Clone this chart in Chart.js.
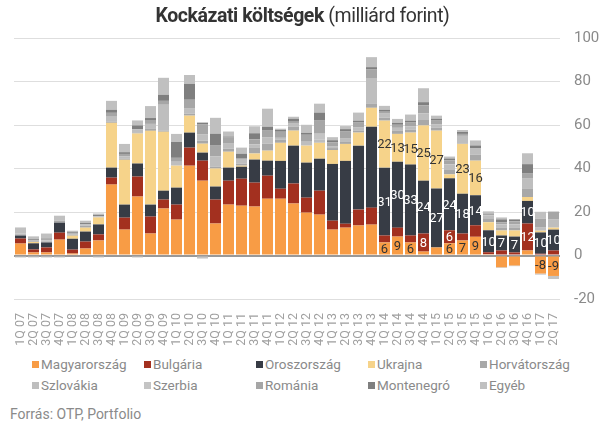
<!DOCTYPE html>
<html lang="hu">
<head>
<meta charset="UTF-8">
<title>Kockázati költségek</title>
<script src="https://cdn.jsdelivr.net/npm/chart.js"></script>
<style>
body { margin: 0; background: #fff; font-family: Roboto, sans-serif; }
#wrap { position: relative; width: 605px; height: 429px; }
#title { position: absolute; top: 4px; left: 0; width: 605px; text-align: center;
  font-size: 19.5px; color: #333; letter-spacing: -0.45px; }
#title b { font-weight: 700; }
#myChart { position: absolute; left: 0; top: 0; }
#legend { position: absolute; left: 32px; top: 356px; width: 570px;
  display: grid; grid-template-columns: repeat(5, 112px); row-gap: 4px; }
.item { font-size: 13.5px; color: #8a8a8a; height: 17px; line-height: 17px; white-space: nowrap; }
.item span { display: inline-block; width: 7px; height: 7px; margin-right: 2px; vertical-align: 1px; }
#source { position: absolute; left: 10px; top: 406px; font-size: 14px; color: #8a8a8a; }
</style>
</head>
<body>
<div id="wrap">
  <canvas id="myChart" width="605" height="352"></canvas>
  <div id="title"><b>Kockázati költségek</b> (milliárd forint)</div>
  <div id="legend"></div>
  <div id="source">Forrás: OTP, Portfolio</div>
</div>

<script>
// quarters 1Q 07 .. 2Q 17
const labels = [
  '1Q 07','2Q 07','3Q 07','4Q 07','1Q 08','2Q 08','3Q 08','4Q 08',
  '1Q 09','2Q 09','3Q 09','4Q 09','1Q 10','2Q 10','3Q 10','4Q 10',
  '1Q 11','2Q 11','3Q 11','4Q 11','1Q 12','2Q 12','3Q 12','4Q 12',
  '1Q 13','2Q 13','3Q 13','4Q 13','1Q 14','2Q 14','3Q 14','4Q 14',
  '1Q 15','2Q 15','3Q 15','4Q 15','1Q 16','2Q 16','3Q 16','4Q 16',
  '1Q 17','2Q 17'
];

const magyarorszag = [5.5, 1.4, 1.4, 7.3, 0.9, 3.2, 6.9, 32.6, 11.9, 27.1, 10.1, 21.6, 16.5, 41.3, 34.4, 14.7, 23.4, 22.9, 22.5, 26.1, 26.1, 23.9, 19.7, 18.8, 11.9, 12.8, 13.8, 14.2, 6.0, 8.7, 6.0, 1.8, 3.7, 5.6, 6.9, 8.6, 0.6, -5.4, -4.6, 2.3, -8.3, -9.4];
const bulgaria     = [2.3, 1.4, 2.3, 3.2, 1.8, 3.2, 2.8, 3.2, 5.5, 9.2, 7.8, 4.1, 6.9, 8.3, 9.2, 11.0, 11.0, 12.4, 11.0, 10.6, 4.6, 9.2, 6.9, 11.0, 4.1, 1.8, 7.3, 7.8, 3.2, 4.1, 3.2, 8.3, -0.5, 6.0, 3.2, 5.3, 0.9, 2.3, 1.4, 12.4, 0.8, 2.3];
const oroszorszag  = [1.4, 2.8, 2.3, 4.6, 5.0, 4.6, 4.6, 4.6, 6.0, 6.0, 5.5, 4.1, 7.8, 6.9, 3.7, 6.0, 6.0, 5.5, 10.6, 6.9, 12.8, 17.4, 16.1, 14.7, 26.1, 28.9, 29.4, 37.2, 31.2, 30.3, 32.6, 24.3, 27.1, 23.9, 18.3, 13.8, 10.1, 6.9, 7.3, 10.4, 9.8, 9.6];
const ukrajna      = [0, 0.6, 0, 0, 1.4, 1.8, 3.2, 20.6, 20.6, 13.8, 33.9, 27.1, 10.1, 7.8, 4.1, 8.3, 7.3, 0.5, 2.8, 4.6, 8.3, 6.9, 7.8, 7.3, 6.4, 7.8, 6.0, 8.7, 21.6, 12.8, 14.7, 25.4, 26.6, 1.8, 22.9, 15.9, 3.7, 2.3, 2.8, 1.8, 0.8, 0.9];
const horvatorszag = [0, 0.3, 0.5, 0.9, 0.5, 0.9, 0.3, 0.5, 0.6, 0.5, 0.9, 0.5, 0, 0.9, 1.4, 0.9, 1.4, 0.9, 2.8, 3.2, 1.4, 1.8, 0, 0, 0.9, 0.9, 0.9, 1.8, 1.4, 1.4, 1.4, 2.8, 1.4, 2.3, 0, 2.8, 1.8, 1.4, 1.4, 3.7, 0, 0];
const szlovakia    = [1.0, 0.3, 0.5, 0, 0.3, 0.5, 0.3, 2.3, 0.9, 1.4, 2.3, 11.9, 1.8, 2.3, 2.8, 4.6, 2.3, 2.3, 1.4, 2.8, 0.9, 1.4, 1.8, 1.4, 0.9, 1.8, 1.4, 11.9, 1.8, 1.4, 1.4, 2.8, 1.4, 2.3, 3.7, 2.8, 1.4, 1.4, 1.4, 5.0, 1.4, 3.7];
const szerbia      = [-0.9, -0.9, -0.9, -0.9, 0, 0, -0.9, 0, 0, -0.9, 0, 0, 0, 0, -1.4, 0, 0, 0, 0, 0, 0, 0, 0, 2.8, 0, 0, 0, 0, 0, 0, 0, 0, 0, 0, 0, 0, 0, -0.3, -0.3, 0, -0.5, -1.4];
const romania      = [0, 0.3, 0.3, 0, 0.3, 0.3, 0, 1.8, 1.2, 0, 1.8, 1.8, 1.8, 4.1, 4.6, 5.0, 2.8, 0, 2.3, 3.2, 2.8, 0.9, 3.2, 6.0, 1.8, 3.2, 2.3, 4.1, 0.9, 1.4, 1.8, 3.7, 1.8, 1.8, 0.9, 0, 0.9, 0.9, 1.4, 2.3, 4.1, 3.7];
const montenegro   = [0, 0.4, 0.5, 0, 0.5, 0.5, 0.5, 1.4, 0.8, 1.8, 0.9, 2.8, 7.3, 7.3, 0.9, 5.5, 0.5, 2.3, 2.8, 1.8, 0.9, 1.4, 0.9, 3.7, 0.9, 0.9, 0.9, 0.9, 0.9, 0.9, 0.9, 1.4, 0.9, 0.9, 0.9, 1.4, 0, 1.4, 0.9, 4.1, 0, 0];
const egyeb        = [2.7, 1.3, 2.3, 2.3, 0.7, 1.0, 0.7, 4.1, 3.8, 2.3, 5.5, 7.8, 3.7, 4.1, 0, 7.3, 2.3, 2.8, 3.2, 8.3, 0.5, 0.9, 3.7, 4.1, 1.4, 1.4, 3.7, 4.6, 1.8, 1.8, 2.8, 6.4, 1.4, 0.9, 0.9, 2.3, 0.9, 0.9, 0, 5.0, 3.2, 0];

const seriesNames = ['Magyarország', 'Bulgária', 'Oroszország', 'Ukrajna', 'Horvátország',
                     'Szlovákia', 'Szerbia', 'Románia', 'Montenegró', 'Egyéb'];
const seriesData = [magyarorszag, bulgaria, oroszorszag, ukrajna, horvatorszag,
                    szlovakia, szerbia, romania, montenegro, egyeb];
const seriesColors = ['#f89c45', '#a3301f', '#373c45', '#f6d38a', '#a8a8a8',
                      '#bebebe', '#c4c4c4', '#a6a6a6', '#7f7f7f', '#c0c0c0'];

// legend as html grid
const legendEl = document.getElementById('legend');
seriesNames.forEach((n, i) => {
    const d = document.createElement('div');
    d.className = 'item';
    d.innerHTML = '<span style="background:' + seriesColors[i] + '"></span>' + n;
    legendEl.appendChild(d);
});

// value labels on the first four series from 1Q 14 on
const valueLabels = {
    id: 'valueLabels',
    afterDatasetsDraw(chart) {
        const ctx = chart.ctx;
        ctx.save();
        ctx.font = '13px Roboto';
        ctx.textAlign = 'center';
        ctx.textBaseline = 'middle';
        for (let d = 0; d < 4; d++) {
            const meta = chart.getDatasetMeta(d);
            meta.data.forEach((bar, i) => {
                const v = seriesData[d][i];
                if (i < 28 || Math.abs(v) < 5.5) return;
                const p = bar.getProps(['x', 'y', 'base'], true);
                ctx.fillStyle = (d === 1 || d === 2) ? '#ffffff' : '#333333';
                ctx.fillText(Math.round(v), p.x, (p.y + p.base) / 2 + 1);
            });
        }
        ctx.restore();
    }
};

const ctx = document.getElementById('myChart').getContext('2d');
const myChart = new Chart(ctx, {
    type: 'bar',
    data: {
        labels: labels,
        datasets: seriesNames.map((n, i) => ({
            label: n,
            data: seriesData[i],
            backgroundColor: seriesColors[i],
            borderWidth: 0,
            categoryPercentage: 1.0,
            barPercentage: 0.85
        }))
    },
    options: {
        responsive: false,
        animation: false,
        layout: { padding: { left: 14, top: 38, right: 0, bottom: 0 } },
        plugins: {
            legend: { display: false },
            tooltip: { enabled: false }
        },
        scales: {
            x: {
                stacked: true,
                grid: { display: false },
                border: { display: false },
                ticks: {
                    autoSkip: false,
                    minRotation: 90,
                    maxRotation: 90,
                    padding: 6,
                    color: '#a0a0a0',
                    font: { family: 'Roboto', size: 12.5 }
                },
                afterFit(scale) { scale.height = 53; }
            },
            y: {
                stacked: true,
                position: 'right',
                min: -20,
                max: 100,
                ticks: {
                    stepSize: 20,
                    padding: 14,
                    color: '#8a8a8a',
                    font: { family: 'Roboto', size: 15 }
                },
                border: { display: false },
                grid: {
                    drawTicks: false,
                    color: c => c.tick.value === 0 ? '#999999' : '#dedede',
                    lineWidth: c => c.tick.value === 0 ? 2 : 1
                },
                afterFit(scale) { scale.width = 45; }
            }
        }
    },
    plugins: [valueLabels]
});
</script>
</body>
</html>
